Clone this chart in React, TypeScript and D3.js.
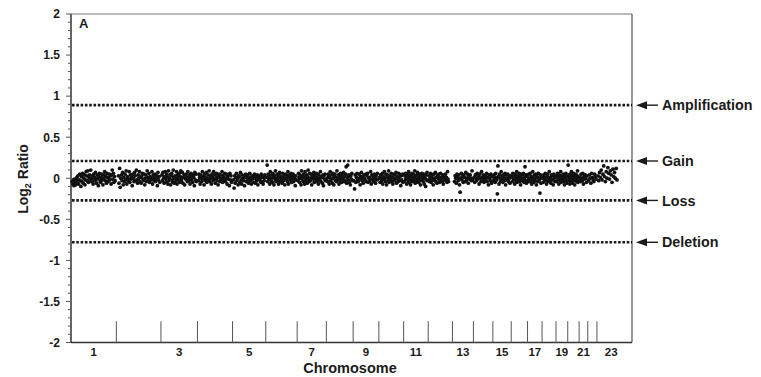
import * as d3 from "d3";

// approximate chromosome sizes (Mb), 1..22 then X (shown as 23)
const chromLengthsMb = [247, 243, 199, 191, 181, 171, 159, 146, 140, 135, 134, 132, 114, 106, 100, 89, 79, 76, 64, 62, 47, 50, 155];
const chromTickLabels = [1, 3, 5, 7, 9, 11, 13, 15, 17, 19, 21, 23];
const yTicks = [2, 1.5, 1, 0.5, 0, -0.5, -1, -1.5, -2];
const thresholdNames = ["Amplification", "Gain", "Loss", "Deletion"];
const thresholdValues = [0.89, 0.21, -0.27, -0.78];

// part of each chromosome covered by clones (fraction of length)
const cloneSpan: [number, number][] = [
  [0.02, 0.98], [0.04, 0.98], [0.02, 0.98], [0.02, 0.98], [0.02, 0.98], [0.02, 0.98],
  [0.02, 0.98], [0.02, 0.98], [0.02, 0.98], [0.02, 0.98], [0.02, 0.98], [0.02, 0.85],
  [0.08, 0.98], [0.02, 0.98], [0.02, 0.98], [0.02, 0.98], [0.02, 0.98], [0.02, 0.98],
  [0.02, 0.98], [0.02, 0.98], [0.05, 0.95], [0.05, 0.95], [0.02, 0.72],
];

// log2 ratio x 100, one list per chromosome, read along the genome
const log2x100: number[][] = [
  [-4,-7,-2,-9,-1,-5,-8,-3,1,-6,3,-7,-2,5,-3,-10,2,-4,6,-6,0,4,-8,-2,8,3,-3,9,-5,1,4,-1,10,-4,0,3,-7,5,-3,1,7,-2,-6,4,0,-9,2,6,-3,-5,1,5,-2,-8,0,4,8,-3,2,-6,6,1,-4,0,5,-2,3,-7,4,10,-1,6,-5,2,-3],
  [3,-6,12,-11,0,4,-3,7,-8,1,-4,5,-2,9,-7,2,0,-3,8,-5,4,-1,1,-9,5,0,-4,7,3,-3,10,-2,-6,4,0,8,-4,1,-6,3,6,-1,-3,5,-8,0,4,-4,9,1,-3,6,-5,2,0,-2,8,-7,4,1,-3,5,-4,0,3,-9,7,-2,2,-5],
  [4,-3,7,0,-6,2,8,-1,-4,5,1,-7,9,-3,0,4,-8,3,6,-2,-5,10,1,-6,3,0,-3,8,-7,4,1,-2,6,-5,2,9,-3,0,7,-6,1,4,-8,3,-1,5,0,-4,8,1,-3,4,-7,0,6,-2,3,-5,4,1,-9,7,-2,5,-4],
  [-3,5,1,-7,4,0,-4,8,2,-1,-8,5,1,-3,7,-5,0,4,-2,9,-4,3,0,-7,5,1,-3,8,-1,4,-6,0,6,-3,2,-8,1,5,-4,0,4,-2,8,-5,3,1,-3,6,-4,0,5,-7,2,-1,4,-9,6,-2,3,-5],
  [-2,-12,3,-6,1,6,-3,0,-8,3,2,-5,7,-2,-7,4,0,-3,3,-9,1,5,-4,2,-2,4,-6,0,6,-3,1,-7,3,-1,2,-5,5,0,-6,2,-3,4,-8,1,3,-2,0,-5,5,2,-4,-7,1,-3,4],
  [1,16,-4,5,-1,2,-7,8,0,-3,4,-5,6,1,-8,3,-1,9,-4,0,5,-3,1,-7,4,7,-2,-4,2,0,-6,6,1,-3,4,-8,0,5,-1,3,-4,8,-7,1,4,-2,0,6,-5,2,-1,5,-4,1,0,-9,3,-2],
  [-3,6,1,-5,4,0,-8,9,-1,2,-4,5,1,-7,8,-3,0,4,-6,2,10,-2,-4,6,0,-3,5,-8,1,4,-1,7,-5,3,0,-4,6,1,-3,5,-7,4,0,-2,8,-4,2,1,-6,4,-9,3,-1,5,-3],
  [0,-4,5,2,-7,1,8,-3,-1,4,-6,6,0,-8,3,5,-3,1,-4,9,-2,0,4,-7,2,-3,6,1,-5,4,0,-1,7,-4,2,-3,5,14,-6,1,16,-2,4,-5,2,-8,3,-1,6,-3],
  [-3,-13,4,-5,1,6,-2,-4,5,0,-8,2,7,-3,1,-6,4,0,-2,5,-4,3,6,-5,0,1,-3,8,-7,4,-1,2,-4,5,0,-6,3,-2,6,-1],
  [1,-5,4,0,-3,6,-7,2,-1,8,0,-4,5,-8,1,4,-3,9,-5,0,3,-2,6,-4,1,-7,5,0,-3,4,-1,7,-6,2,0,-4,6,1,-3,4,-9,3,-2,5,-5],
  [-4,3,6,-1,0,-7,5,1,-3,8,-5,4,0,-8,2,-2,6,-4,1,5,-3,0,9,-6,3,-1,4,-4,7,0,-5,1,5,-3,-8,4,0,6,-2,3,-4,5,-7,1,0,-10,4,-2,7,-3],
  [3,-4,0,6,-5,1,4,-2,-8,5,0,-3,7,-4,1,-6,4,2,-1,5,-5,0,6,-3,1,-4,4,-7,0,3,-2,5,-3,1,-5,8,-1,-4],
  [-4,3,0,-6,5,1,-3,4,-8,-17,0,6,-2,2,-5,4,1,-4,7,-3,0,5,-6,2,-1,4,0,-3,9,-2],
  [1,-5,4,0,-3,6,-1,2,-7,5,0,-4,8,1,-3,4,-5,0,3,-2,6,-4,1,-8,4,0,-3,5,-6,2],
  [-3,4,0,-5,6,1,-2,-19,15,2,-7,5,0,-4,8,-1,3,-5,4,1,-3,6,-8,0,4,-2,5,-4,1,0,-6,3],
  [2,-4,6,0,-2,5,-7,1,4,-3,8,-5,0,3,-1,6,-4,1,-8,5,0,-3,4,-2,6,-5,1,14,-3,4,-6,2],
  [-2,5,-4,0,6,-3,2,-7,1,8,-2,-5,4,0,-3,5,-8,2,1,-4,6,0,-2,-18,4,-6,1],
  [0,-5,4,1,-3,6,-2,-7,2,5,-4,0,8,-3,1,-6,4,-2,3,-8,5,0,-4,2],
  [-4,3,6,-2,0,-7,4,1,-3,8,-5,0,3,-2,5,-4,1,-8,4,0,6,-3,-6,2],
  [16,-3,4,0,-7,5,1,-4,8,-2,3,-6,0,6,-3,1,-8,4,-1,5,0,-4,3,9,-5,2,-2],
  [1,-4,5,0,-3,6,-7,2,-1,4,0,-5,3],
  [-3,4,0,-6,6,1,-2,-4,5,2,-1],
  [3,-3,7,1,10,-2,5,15,2,-4,8,0,13,6,-1,9,4,-5,11,2,7,0,12,-2],
];

const W = 761;
const H = 377;
const font = "'Liberation Sans', Arial, sans-serif";
const ink = "#1a1a1a";

export default function App() {
  const genomeEnd = 3056;
  const x = d3.scaleLinear().domain([0, genomeEnd]).range([71, 632]);
  const y = d3.scaleLinear().domain([-2, 2]).range([342.5, 14]);

  const offsets = [0, ...d3.cumsum(chromLengthsMb)];
  const points = log2x100.flatMap((vals, c) => {
    const [s0, s1] = cloneSpan[c];
    const len = chromLengthsMb[c];
    return vals.map((v, i) => ({
      pos: offsets[c] + len * (s0 + ((s1 - s0) * (i + 0.5)) / vals.length),
      val: v / 100,
    }));
  });

  const minorTicks = d3.range(-20, 21).map((d) => d / 10);

  return (
    <svg width={W} height={H} style={{ position: "absolute", left: 0, top: 0, background: "#fff" }} fontFamily={font}>
      {/* frame */}
      <line x1={x(0)} x2={x(genomeEnd)} y1={y(2)} y2={y(2)} stroke="#777" strokeWidth={1} />
      <line x1={x(genomeEnd)} x2={x(genomeEnd)} y1={y(2)} y2={y(-2)} stroke="#333" strokeWidth={1} />
      <line x1={x(0)} x2={x(genomeEnd)} y1={y(-2)} y2={y(-2)} stroke="#333" strokeWidth={1.5} />
      <line x1={x(0)} x2={x(0)} y1={y(2)} y2={y(-2)} stroke="#333" strokeWidth={1.5} />

      {/* y ticks */}
      {minorTicks.map((t) => (
        <line key={t} x1={x(0) - (Math.abs(t * 2 - Math.round(t * 2)) < 1e-6 ? 5 : 3)} x2={x(0)} y1={y(t)} y2={y(t)} stroke="#555" strokeWidth={1} />
      ))}
      {yTicks.map((t) => (
        <text key={t} x={60} y={y(t)} dy="0.36em" textAnchor="end" fontSize={12} fontWeight="bold" fill={ink}>
          {t}
        </text>
      ))}
      <text transform={`translate(28,179) rotate(-90)`} textAnchor="middle" fontSize={14} fontWeight="bold" fill={ink}>
        Log<tspan fontSize={9} dy={3}>2</tspan>
        <tspan dy={-3}> Ratio</tspan>
      </text>

      {/* chromosome boundaries */}
      {offsets.slice(1, 23).map((o, i) => (
        <line key={i} x1={x(o)} x2={x(o)} y1={y(-2)} y2={y(-1.74)} stroke="#555" strokeWidth={1} />
      ))}
      {chromTickLabels.map((c) => (
        <text key={c} x={x(offsets[c - 1] + chromLengthsMb[c - 1] / 2)} y={355.5} textAnchor="middle" fontSize={11.5} fontWeight="bold" fill={ink}>
          {c}
        </text>
      ))}
      <text x={350} y={373} textAnchor="middle" fontSize={14.5} fontWeight="bold" fill={ink}>
        Chromosome
      </text>

      <text x={79} y={28} fontSize={13} fontWeight="bold" fill={ink}>
        A
      </text>

      {/* threshold lines */}
      {thresholdValues.map((v, i) => (
        <g key={thresholdNames[i]}>
          <line x1={x(0) + 1} x2={x(genomeEnd)} y1={y(v)} y2={y(v)} stroke={ink} strokeWidth={2.6} strokeDasharray="2.6,1.7" />
          <path d={`M636,${y(v)} L647,${y(v) - 4} L647,${y(v) + 4} Z`} fill={ink} />
          <line x1={645} x2={658} y1={y(v)} y2={y(v)} stroke={ink} strokeWidth={1.4} />
          <text x={662} y={y(v)} dy="0.36em" fontSize={14.3} fontWeight="bold" fill={ink}>
            {thresholdNames[i]}
          </text>
        </g>
      ))}

      {/* clones */}
      {points.map((p, i) => (
        <circle key={i} cx={x(p.pos)} cy={y(p.val)} r={1.9} fill="#111" />
      ))}
    </svg>
  );
}
